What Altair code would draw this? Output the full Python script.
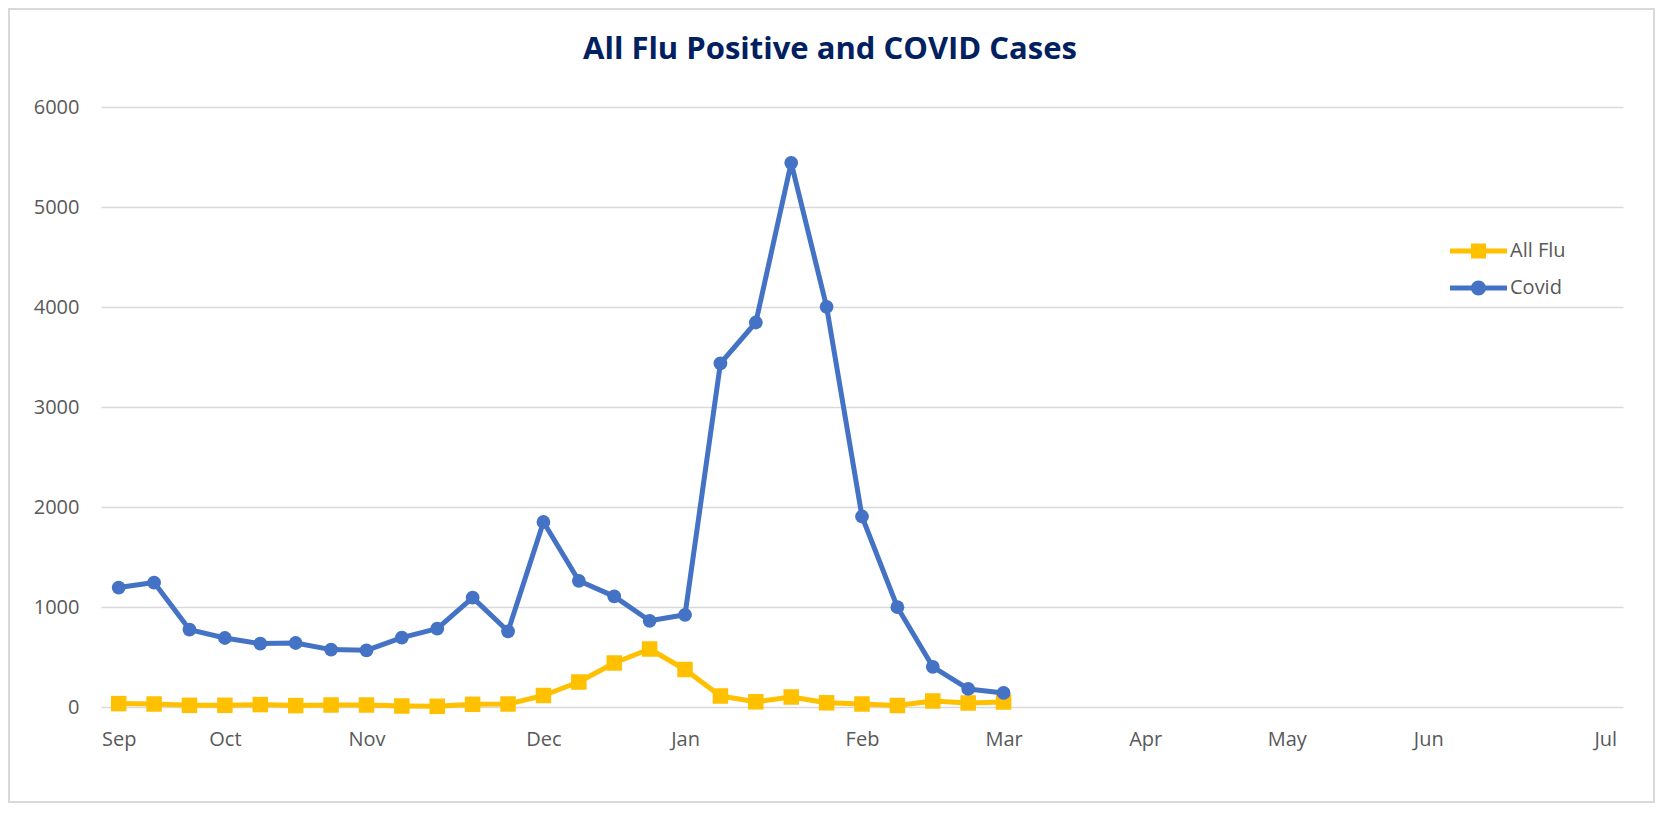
import altair as alt
import pandas as pd

# ---- data (weekly points, category index 0..42) ----
week_index = list(range(26))
flu_values = [34, 30, 17, 17, 24, 14, 20, 20, 10, 7, 27, 30, 115, 250, 440,
              580, 375, 110, 52, 100, 42, 30, 15, 60, 40, 50]
covid_values = [1194, 1244, 774, 690, 634, 640, 574, 567, 694, 784, 1094, 757,
                1850, 1262, 1106, 862, 922, 3436, 3845, 5442, 4002, 1905, 998,
                402, 181, 141]
series_names = ["All Flu", "Covid"]
series_colors = ["#FFC000", "#4472C4"]
month_labels = ["Sep", "Oct", "Nov", "Dec", "Jan", "Feb", "Mar", "Apr", "May", "Jun", "Jul"]
month_positions = [0, 3, 7, 12, 16, 21, 25, 29, 33, 37, 42]
y_ticks = [0, 1000, 2000, 3000, 4000, 5000, 6000]

df = pd.DataFrame({
    "week": week_index + week_index,
    "series": [series_names[0]] * len(flu_values) + [series_names[1]] * len(covid_values),
    "cases": flu_values + covid_values,
})

label_color = "#595959"
font = "Open Sans"

label_expr = "[{}][indexof([{}], datum.value)]".format(
    ",".join("'{}'".format(m) for m in month_labels),
    ",".join(str(p) for p in month_positions),
)

x_enc = alt.X(
    "week:Q",
    scale=alt.Scale(domain=[-0.5, 42.5], nice=False, zero=False),
    axis=alt.Axis(values=month_positions, labelExpr=label_expr, title=None,
                  grid=False, domain=False, ticks=False, tickSize=0,
                  labelPadding=38, labelBaseline="alphabetic", labelFontSize=20,
                  labelColor=label_color, labelFont=font, labelFlush=False,
                  labelOverlap=False),
)
y_enc = alt.Y(
    "cases:Q",
    scale=alt.Scale(domain=[0, 6000], nice=False),
    axis=alt.Axis(values=y_ticks, title=None, domain=False, ticks=False, tickSize=0,
                  labelPadding=22, labelFontSize=20, labelColor=label_color,
                  labelFont=font, gridColor="#D9D9D9", gridWidth=1.6, format="d"),
)

base = alt.Chart(df)

flu_line = base.transform_filter(alt.datum.series == series_names[0]).mark_line(
    color=series_colors[0], strokeWidth=5, strokeJoin="round", strokeCap="round"
).encode(x=x_enc, y=y_enc)
flu_pts = base.transform_filter(alt.datum.series == series_names[0]).mark_square(
    color=series_colors[0], size=240, opacity=1
).encode(x=x_enc, y=y_enc)
covid_line = base.transform_filter(alt.datum.series == series_names[1]).mark_line(
    color=series_colors[1], strokeWidth=5, strokeJoin="round", strokeCap="round"
).encode(x=x_enc, y=y_enc)
covid_pts = base.transform_filter(alt.datum.series == series_names[1]).mark_circle(
    color=series_colors[1], size=190, opacity=1
).encode(x=x_enc, y=y_enc)

# legend symbols: line with marker (unit = 10px with symbolSize 400)
flu_symbol = "M-2.85,-0.25H2.85V0.25H-2.85Z M-0.75,-0.75H0.75V0.75H-0.75Z"
covid_symbol = ("M-2.85,-0.25H2.85V0.25H-2.85Z "
                "M-0.75,0A0.75,0.75 0 1,1 0.75,0A0.75,0.75 0 1,1 -0.75,0Z")

legend = alt.Legend(title=None, orient="none", legendX=1367.5, legendY=134,
                    symbolSize=400, symbolStrokeWidth=0, symbolOpacity=1,
                    labelOffset=21.5, labelFontSize=20, labelColor=label_color,
                    labelFont=font, rowPadding=17, padding=0)

legend_layer = base.transform_filter("false").mark_point(
    filled=True, opacity=1, strokeWidth=0
).encode(
    x=x_enc, y=y_enc,
    color=alt.Color("series:N", scale=alt.Scale(domain=series_names, range=series_colors), legend=legend),
    shape=alt.Shape("series:N", scale=alt.Scale(domain=series_names, range=[flu_symbol, covid_symbol]), legend=legend),
)

border = alt.Chart(pd.DataFrame({"k": [0]})).mark_rect(
    fill="transparent", stroke="#D9D9D9", strokeWidth=2, clip=False
).encode(x=alt.value(-92), x2=alt.value(1553), y=alt.value(-98), y2=alt.value(695))

chart = alt.layer(
    border, flu_line, flu_pts, covid_line, covid_pts, legend_layer
).properties(
    width=1522,
    height=600,
    autosize=alt.AutoSizeParams(type="none"),
    padding={"left": 93, "top": 99, "right": 32, "bottom": 96},
    title=alt.TitleParams(text="All Flu Positive and COVID Cases", font=font,
                          fontSize=31, fontWeight="bold", color="#002060",
                          anchor="middle", frame="group", dx=-32, offset=-82,
                          baseline="alphabetic"),
).configure(background="white").configure_view(stroke="transparent")

chart.save("out.html", embed_options={"renderer": "svg", "actions": False})
